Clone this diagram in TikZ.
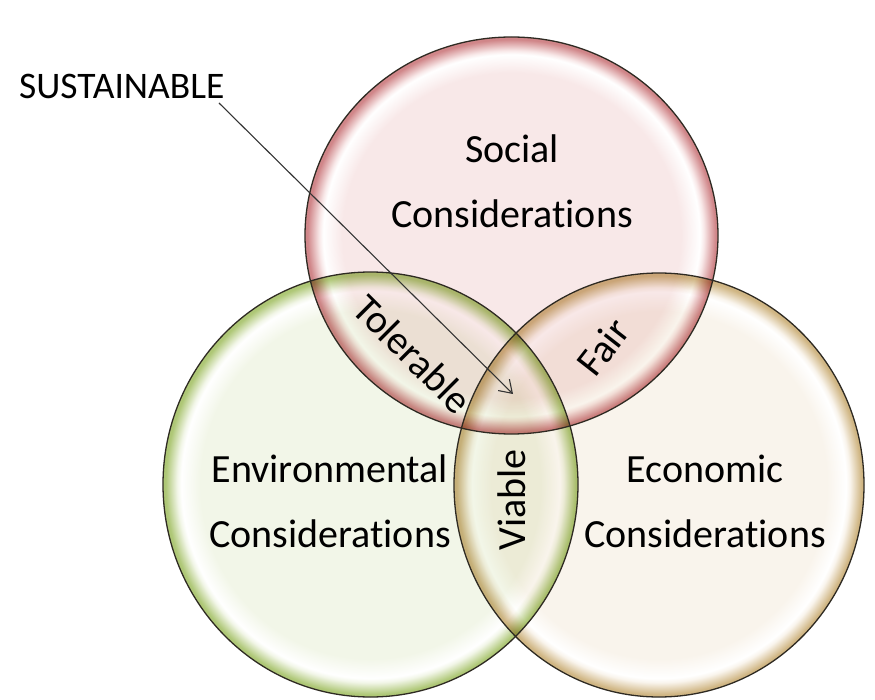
\documentclass[tikz,border=0pt]{standalone}
\usepackage{fontspec}
\setmainfont{Carlito}[Ligatures={NoCommon}]
\usetikzlibrary{arrows.meta}
\definecolor{socin}{HTML}{F8E8E8}
\definecolor{socrim}{HTML}{D08689}
\definecolor{envin}{HTML}{F2F6E8}
\definecolor{envrim}{HTML}{AEC776}
\definecolor{ecoin}{HTML}{F9F4EC}
\definecolor{ecorim}{HTML}{D0B684}
\definecolor{edge}{HTML}{2E2A22}
\pgfdeclareradialshading{socshade}{\pgfpoint{0bp}{0bp}}{color(0bp)=(socin); color(20.5bp)=(socin); color(22.8bp)=(white); color(23.3bp)=(socin); color(24.7bp)=(socrim); color(50bp)=(socrim)}
\pgfdeclareradialshading{envshade}{\pgfpoint{0bp}{0bp}}{color(0bp)=(envin); color(20.5bp)=(envin); color(22.8bp)=(white); color(23.3bp)=(envin); color(24.7bp)=(envrim); color(50bp)=(envrim)}
\pgfdeclareradialshading{ecoshade}{\pgfpoint{0bp}{0bp}}{color(0bp)=(ecoin); color(20.5bp)=(ecoin); color(22.8bp)=(white); color(23.3bp)=(ecoin); color(24.7bp)=(ecorim); color(50bp)=(ecorim)}
\tikzset{
  rimline/.style={draw=edge, line width=1.3pt},
  lab/.style={font=\fontsize{40}{42}\selectfont, text=black, inner sep=0pt, align=center},
  sus/.style={font=\fontsize{37.5}{40}\selectfont, text=black, inner sep=0pt},
  pointer/.style={draw=black!80, line width=1.1pt, -{Straight Barb[length=12pt,width=16pt,line width=1.1pt]}}
}
\begin{document}
\begin{tikzpicture}[x=1pt,y=-1pt]
\useasboundingbox (0,0) rectangle (875,700);
\fill[white] (0,0) rectangle (875,700);
\begin{scope}[blend group=multiply]
  \shade[shading=envshade] (370.5,484.5) ellipse [x radius=207.5, y radius=212.5];
  \shade[shading=ecoshade] (659,485) ellipse [x radius=205, y radius=212];
  \shade[shading=socshade] (511.5,235.5) ellipse [x radius=206.5, y radius=198.5];
\end{scope}
\draw[rimline] (370.5,484.5) ellipse [x radius=207.5, y radius=212.5];
\draw[rimline] (659,485) ellipse [x radius=205, y radius=212];
\draw[rimline] (511.5,235.5) ellipse [x radius=206.5, y radius=198.5];
\node[lab] (social) at (512,181) {Social\\[23pt]Considerations};
\node[lab] (env) at (330,501) {Environmental\\[23pt]Considerations};
\node[lab] (eco) at (705,501) {Economic\\[23pt]Considerations};
\node[lab, rotate=-45] (tol) at (413,354) {Tolerable};
\node[lab, rotate=52] (fair) at (603,347) {Fair};
\node[lab, rotate=90] (viable) at (512,500) {Viable};
\node[sus, anchor=west] (sustain) at (19,86) {SUSTAINABLE};
\coordinate (start) at (219,103);
\coordinate (tip) at (513,394);
\draw[pointer] (start) -- (tip);
\end{tikzpicture}
\end{document}
